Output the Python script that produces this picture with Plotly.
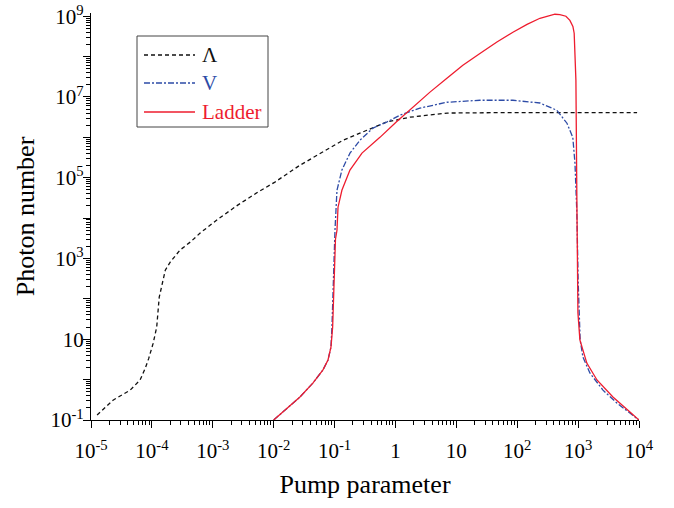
import plotly.graph_objects as go

# Pump parameter / photon number curves for the three level schemes
lambda_x = [1.26e-5, 2.3e-5, 4.4e-5, 6.4e-5, 7.8e-5, 8.9e-5, 1.05e-4, 1.2e-4,
            1.32e-4, 1.48e-4, 1.66e-4, 2.0e-4, 2.9e-4, 4.3e-4, 6.2e-4, 1.23e-3,
            2.57e-3, 5.5e-3, 1.05e-2, 2.7e-2, 5.8e-2, 0.138, 0.34, 0.72, 1.74,
            7.1, 52, 9.3e3]
lambda_y = [0.133, 0.31, 0.55, 0.98, 1.94, 3.4, 8.0, 20,
            110, 245, 513, 813, 1620, 2570, 4270, 9550,
            2.1e4, 4.4e4, 7.8e4, 2.04e5, 4.07e5, 8.5e5, 1.5e6, 2.4e6, 3.16e6,
            4.0e6, 4.1e6, 4.1e6]

v_x = [0.01, 0.027, 0.044, 0.0645, 0.078, 0.0873, 0.0906, 0.094, 0.0977,
       0.1016, 0.1096, 0.132, 0.179, 0.261, 0.427, 0.724, 1.19, 2.52, 7.0,
       24.4, 85, 236, 446, 656, 818, 888, 955, 1000, 1080, 1200, 1560, 2560,
       4370, 7100, 1.0e4]
v_y = [0.1, 0.37, 0.82, 1.74, 3.06, 6.4, 20, 138, 912,
       5000, 4.9e4, 1.55e5, 4.07e5, 8.5e5, 1.7e6, 2.4e6, 3.55e6, 5.3e6, 7.4e6,
       8.3e6, 8.3e6, 7.1e6, 4.7e6, 2.24e6, 1.0e6, 2.3e5, 1.3e4, 295, 9.6, 3.6,
       1.46, 0.55, 0.26, 0.148, 0.1]

ladder_x = [0.01, 0.027, 0.044, 0.0645, 0.078, 0.0873, 0.093, 0.098, 0.1035,
            0.1096, 0.114, 0.132, 0.179, 0.282, 0.556, 1.02, 1.94, 3.69, 7.0,
            12.8, 24.4, 46.4, 85, 145, 236, 416, 502, 631, 733, 821, 862,
            885, 920, 960, 993, 1070, 1390, 2040, 3730, 7100, 1.0e4]
ladder_y = [0.1, 0.37, 0.82, 1.74, 3.06, 6.4, 20, 300, 3000,
            5000, 1.86e4, 4.9e4, 1.55e5, 4.07e5, 1.0e6, 2.38e6, 5.6e6, 1.32e7, 2.92e7,
            6.1e7, 1.2e8, 2.3e8, 4.0e8, 6.3e8, 8.9e8, 1.12e9, 1.1e9, 1.0e9, 7.9e8,
            5.6e8, 3.8e8, 1.7e8, 2.6e7, 1.0e4, 45, 9.6, 2.57, 0.98, 0.37, 0.158,
            0.1]

series_names = ["Λ", "V", "Ladder"]

x_tickvals = [1e-5, 1e-4, 1e-3, 1e-2, 1e-1, 1, 10, 1e2, 1e3, 1e4]
x_ticktext = ["10<sup>-5</sup>", "10<sup>-4</sup>", "10<sup>-3</sup>",
              "10<sup>-2</sup>", "10<sup>-1</sup>", "1", "10",
              "10<sup>2</sup>", "10<sup>3</sup>", "10<sup>4</sup>"]
y_tickvals = [1e-1, 1, 10, 1e2, 1e3, 1e4, 1e5, 1e6, 1e7, 1e8, 1e9]
y_ticktext = ["10<sup>-1</sup>", "", "10", "", "10<sup>3</sup>", "",
              "10<sup>5</sup>", "", "10<sup>7</sup>", "", "10<sup>9</sup>"]

BLACK = "#111111"
BLUE = "#2D4BA6"
RED = "#EE1C2E"
FONT = "Liberation Serif, Times New Roman, serif"

styles = [
    dict(color=BLACK, width=1.3, dash="4px,3px"),
    dict(color=BLUE, width=1.3, dash="6px,2px,2px,2px"),
    dict(color=RED, width=1.3, dash="solid"),
]

# figure geometry (px) used to place the framed key in paper coordinates
W, H = 674, 508
M_L, M_R, M_T, M_B = 91, 35, 13, 88
PW, PH = W - M_L - M_R, H - M_T - M_B


def px_to_paper(px, py):
    return (px - M_L) / PW, (H - M_B - py) / PH


def minor_ticks(lo, hi):
    return [m * 10.0 ** e for e in range(lo, hi) for m in range(2, 10)]


fig = go.Figure()
for xs, ys, name, st in zip([lambda_x, v_x, ladder_x], [lambda_y, v_y, ladder_y],
                            series_names, styles):
    fig.add_trace(go.Scatter(x=xs, y=ys, mode="lines", name=name,
                             line=st, showlegend=False))

# framed key in the upper left corner
bx0, by0 = px_to_paper(137, 127)
bx1, by1 = px_to_paper(268, 36)
fig.add_shape(type="rect", xref="paper", yref="paper", x0=bx0, y0=by0, x1=bx1, y1=by1,
              line=dict(color="#444444", width=1), fillcolor="white", layer="above")
for row_y, name, st in zip([55, 83, 112], series_names, styles):
    lx0, ly = px_to_paper(144, row_y)
    lx1, _ = px_to_paper(195, row_y)
    fig.add_shape(type="line", xref="paper", yref="paper", x0=lx0, x1=lx1, y0=ly, y1=ly,
                  line=st, layer="above")
    tx, _ = px_to_paper(200, row_y)
    fig.add_annotation(xref="paper", yref="paper", x=tx, y=ly, xanchor="left",
                       yanchor="middle", text=name, showarrow=False,
                       font=dict(family=FONT, size=21, color=st["color"]))

axis_common = dict(
    type="log",
    automargin=False,
    showgrid=False,
    zeroline=False,
    showline=True,
    linecolor="black",
    linewidth=1.3,
    ticks="outside",
    ticklen=7,
    tickwidth=1.3,
    tickcolor="black",
    tickmode="array",
    tickfont=dict(family=FONT, size=21, color="black"),
    mirror=False,
)

fig.update_xaxes(
    **axis_common,
    range=[-5, 4],
    tickvals=x_tickvals,
    ticktext=x_ticktext,
    ticklabelstandoff=5,
    minor=dict(tickmode="array", tickvals=minor_ticks(-5, 4), ticks="outside",
               ticklen=4, tickwidth=1, tickcolor="black"),
    title=dict(text="Pump parameter", font=dict(family=FONT, size=26, color="black"),
               standoff=12),
)
fig.update_yaxes(
    **axis_common,
    range=[-1, 9.08],
    tickvals=y_tickvals,
    ticktext=y_ticktext,
    ticklabelstandoff=-5,
    minor=dict(tickmode="array", tickvals=minor_ticks(-1, 9), ticks="outside",
               ticklen=4, tickwidth=1, tickcolor="black"),
    title=dict(text="Photon number", font=dict(family=FONT, size=26, color="black"),
               standoff=8),
)

fig.update_layout(
    width=W,
    height=H,
    margin=dict(l=M_L, r=M_R, t=M_T, b=M_B),
    paper_bgcolor="white",
    plot_bgcolor="white",
    font=dict(family=FONT, color="black"),
    showlegend=False,
)

fig.write_html("out.html")
